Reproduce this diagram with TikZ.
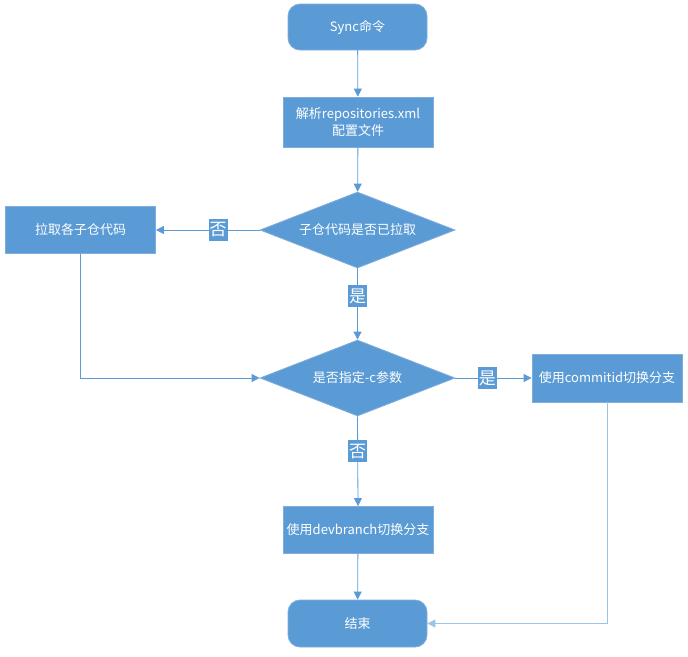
\documentclass[tikz,border=0pt]{standalone}
\usepackage{fontspec}
\setmainfont{Noto Sans CJK SC}
\usetikzlibrary{shapes.geometric,arrows.meta}
\definecolor{boxfill}{HTML}{5B9BD5}
\definecolor{boxedge}{HTML}{7FAEDC}
\definecolor{linec}{HTML}{5B9BD5}
\definecolor{linelight}{HTML}{9DC3E6}
\tikzset{
  base/.style={fill=boxfill, draw=boxedge, line width=0.8pt, text=white,
    font=\fontsize{13}{17}\selectfont, align=center, inner sep=0pt},
  procbox/.style={base, rectangle, minimum width=150pt, minimum height=48pt},
  termbox/.style={base, rectangle, rounded corners=12pt, minimum width=139pt, minimum height=46pt},
  decbox/.style={base, diamond, minimum width=195pt, minimum height=76pt, aspect=2.5},
  lbl/.style={fill=boxfill, text=white, font=\fontsize{17}{18}\selectfont, inner sep=1pt, minimum width=18pt, minimum height=22pt},
  conn/.style={draw=linec, line width=0.8pt, -{Triangle[length=8pt,width=8pt]}},
}
\begin{document}
\begin{tikzpicture}[x=1pt,y=-1pt]
\useasboundingbox (0,0) rectangle (688,656);
\node[termbox] (sync) at (357.5,27) {Sync命令};
\node[procbox, minimum height=50pt] (parse) at (358,122) {解析repositories.xml\\配置文件};
\node[decbox] (d1) at (357.5,230) {子仓代码是否已拉取};
\node[procbox, minimum height=47pt] (pull) at (80.5,230) {拉取各子仓代码};
\node[decbox] (d2) at (357.5,378) {是否指定-c参数};
\node[procbox, minimum height=48pt] (commit) at (607,378) {使用commitid切换分支};
\node[procbox, minimum height=47pt] (dev) at (358,530) {使用devbranch切换分支};
\node[termbox, minimum height=47pt] (end) at (357.5,623.5) {结束};
\coordinate (pullturn) at (pull.south |- d2.west);
\coordinate (committurn) at (commit.south |- end.east);

\draw[conn] (sync) -- (parse);
\draw[conn] (parse) -- (d1);
\draw[conn] (d1.west) -- node[lbl, pos=0.4] {否} (pull.east);
\draw[conn] (d1.south) -- node[lbl, pos=0.39] {是} (d2.north);
\draw[conn] (pull.south) -- (pullturn) -- (d2.west);
\draw[conn] (d2.east) -- node[lbl, pos=0.42] {是} (commit.west);
\draw[conn] (d2.south) -- node[lbl, pos=0.39] {否} (dev.north);
\draw[conn] (dev) -- (end);
\draw[conn, draw=linelight] (commit.south) -- (committurn) -- (end.east);
\end{tikzpicture}
\end{document}
